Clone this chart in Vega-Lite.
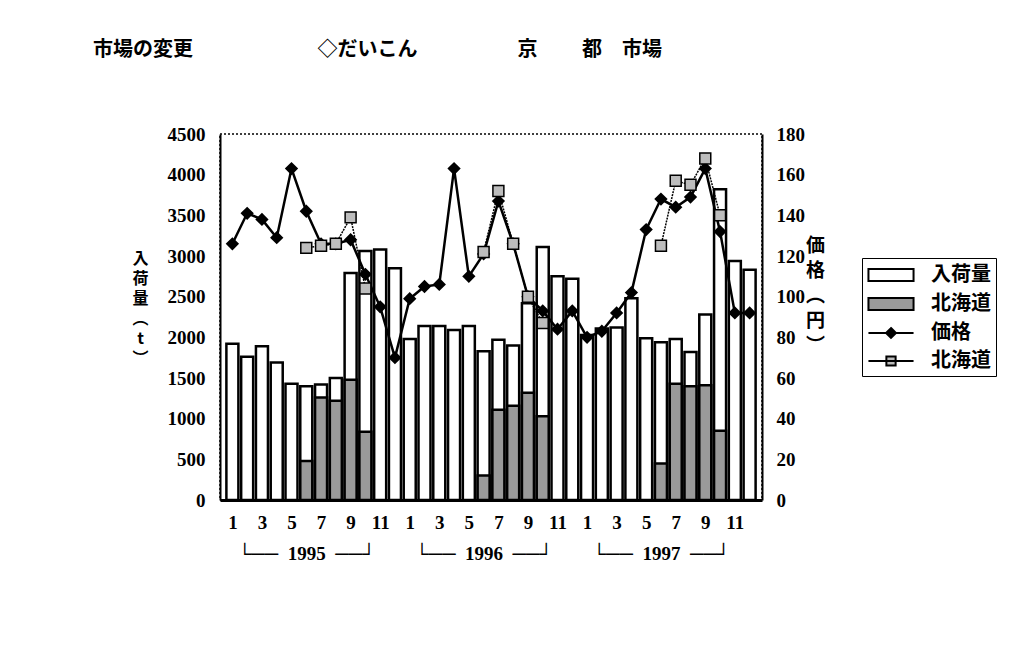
{
  "$schema": "https://vega.github.io/schema/vega-lite/v6.json",
  "width": 542,
  "height": 366,
  "autosize": {"type": "none"},
  "padding": {"left": 220, "top": 134, "right": 261, "bottom": 168},
  "background": "white",
  "config": {
    "view": {"stroke": "black", "strokeDash": [2, 2], "strokeWidth": 1.5},
    "axis": {
      "grid": false,
      "ticks": false,
      "labelFont": "Liberation Serif",
      "labelFontWeight": "bold",
      "labelFontSize": 19,
      "labelColor": "black",
      "domainColor": "black",
      "titleFont": "Noto Sans CJK JP",
      "titleFontWeight": "bold",
      "titleColor": "black",
      "labelOverlap": false
    }
  },
  "title": {
    "text": "市場の変更　　　　　　 ◇だいこん　　　　　京　　  都　市場",
    "anchor": "start",
    "frame": "group",
    "dx": -127,
    "offset": 55,
    "font": "Noto Sans CJK JP",
    "fontSize": 20,
    "fontWeight": "bold",
    "color": "black",
    "baseline": "middle"
  },
  "data": {
    "values": [
      {"t": 1, "yr": 1995, "total": 1920, "hk": null, "price": 126, "hkp": null},
      {"t": 2, "yr": 1995, "total": 1760, "hk": null, "price": 141, "hkp": null},
      {"t": 3, "yr": 1995, "total": 1890, "hk": null, "price": 138, "hkp": null},
      {"t": 4, "yr": 1995, "total": 1690, "hk": null, "price": 129, "hkp": null},
      {"t": 5, "yr": 1995, "total": 1430, "hk": null, "price": 163, "hkp": null},
      {"t": 6, "yr": 1995, "total": 1400, "hk": 480, "price": 142, "hkp": 124},
      {"t": 7, "yr": 1995, "total": 1420, "hk": 1260, "price": 126, "hkp": 125},
      {"t": 8, "yr": 1995, "total": 1500, "hk": 1220, "price": 126, "hkp": 126},
      {"t": 9, "yr": 1995, "total": 2790, "hk": 1480, "price": 128, "hkp": 139},
      {"t": 10, "yr": 1995, "total": 3060, "hk": 840, "price": 111, "hkp": 104},
      {"t": 11, "yr": 1995, "total": 3080, "hk": null, "price": 95, "hkp": null},
      {"t": 12, "yr": 1995, "total": 2850, "hk": null, "price": 70, "hkp": null},
      {"t": 13, "yr": 1996, "total": 1980, "hk": null, "price": 99, "hkp": null},
      {"t": 14, "yr": 1996, "total": 2140, "hk": null, "price": 105, "hkp": null},
      {"t": 15, "yr": 1996, "total": 2140, "hk": null, "price": 106, "hkp": null},
      {"t": 16, "yr": 1996, "total": 2090, "hk": null, "price": 163, "hkp": null},
      {"t": 17, "yr": 1996, "total": 2140, "hk": null, "price": 110, "hkp": null},
      {"t": 18, "yr": 1996, "total": 1830, "hk": 300, "price": 121, "hkp": 122},
      {"t": 19, "yr": 1996, "total": 1970, "hk": 1110, "price": 147, "hkp": 152},
      {"t": 20, "yr": 1996, "total": 1900, "hk": 1160, "price": 126, "hkp": 126},
      {"t": 21, "yr": 1996, "total": 2420, "hk": 1320, "price": 100, "hkp": 100},
      {"t": 22, "yr": 1996, "total": 3110, "hk": 1030, "price": 93, "hkp": 87},
      {"t": 23, "yr": 1996, "total": 2750, "hk": null, "price": 84, "hkp": null},
      {"t": 24, "yr": 1996, "total": 2720, "hk": null, "price": 93, "hkp": null},
      {"t": 25, "yr": 1997, "total": 2030, "hk": null, "price": 80, "hkp": null},
      {"t": 26, "yr": 1997, "total": 2110, "hk": null, "price": 83, "hkp": null},
      {"t": 27, "yr": 1997, "total": 2120, "hk": null, "price": 92, "hkp": null},
      {"t": 28, "yr": 1997, "total": 2480, "hk": null, "price": 102, "hkp": null},
      {"t": 29, "yr": 1997, "total": 1990, "hk": null, "price": 133, "hkp": null},
      {"t": 30, "yr": 1997, "total": 1940, "hk": 450, "price": 148, "hkp": 125},
      {"t": 31, "yr": 1997, "total": 1980, "hk": 1430, "price": 144, "hkp": 157},
      {"t": 32, "yr": 1997, "total": 1820, "hk": 1400, "price": 149, "hkp": 155},
      {"t": 33, "yr": 1997, "total": 2280, "hk": 1410, "price": 163, "hkp": 168},
      {"t": 34, "yr": 1997, "total": 3820, "hk": 850, "price": 132, "hkp": 140},
      {"t": 35, "yr": 1997, "total": 2940, "hk": null, "price": 92, "hkp": null},
      {"t": 36, "yr": 1997, "total": 2830, "hk": null, "price": 92, "hkp": null}
    ]
  },
  "layer": [
    {
      "layer": [
        {
          "mark": {"type": "bar", "size": 12, "fill": "white", "stroke": "black", "strokeWidth": 2.5},
          "encoding": {
            "x": {"field": "t", "type": "quantitative", "scale": {"domain": [0.5, 36.5], "nice": false, "zero": false},
              "axis": {"orient": "bottom", "values": [1, 3, 5, 7, 9, 11, 13, 15, 17, 19, 21, 23, 25, 27, 29, 31, 33, 35], "labelExpr": "(datum.value - 1) % 12 + 1", "labelPadding": 13, "domainWidth": 3, "title": null}},
            "y": {"field": "total", "type": "quantitative", "scale": {"domain": [0, 4500], "nice": false},
              "axis": {"orient": "left", "format": "d", "values": [0, 500, 1000, 1500, 2000, 2500, 3000, 3500, 4000, 4500], "labelPadding": 15, "domainWidth": 2, "title": ["入", "荷", "量", "︵", "t", "︶"], "titleAngle": 0, "titleX": -80, "titleY": 124, "titleAlign": "center", "titleBaseline": "middle", "titleFontSize": 16, "titleLineHeight": 20}}
          }
        },
        {
          "transform": [{"filter": "datum.hk != null"}],
          "mark": {"type": "bar", "size": 12, "fill": "#9a9a9a", "stroke": "black", "strokeWidth": 2.5},
          "encoding": {
            "x": {"field": "t", "type": "quantitative", "scale": {"domain": [0.5, 36.5], "nice": false, "zero": false},
              "axis": {"orient": "bottom", "values": [1, 3, 5, 7, 9, 11, 13, 15, 17, 19, 21, 23, 25, 27, 29, 31, 33, 35], "labelExpr": "(datum.value - 1) % 12 + 1", "labelPadding": 13, "domainWidth": 3, "title": null}},
            "y": {"field": "hk", "type": "quantitative", "scale": {"domain": [0, 4500], "nice": false},
              "axis": {"orient": "left", "format": "d", "values": [0, 500, 1000, 1500, 2000, 2500, 3000, 3500, 4000, 4500], "labelPadding": 15, "domainWidth": 2, "title": ["入", "荷", "量", "︵", "t", "︶"], "titleAngle": 0, "titleX": -80, "titleY": 124, "titleAlign": "center", "titleBaseline": "middle", "titleFontSize": 16, "titleLineHeight": 20}}
          }
        }
      ]
    },
    {
      "layer": [
        {
          "mark": {"type": "line", "color": "black", "strokeWidth": 2.5},
          "encoding": {
            "x": {"field": "t", "type": "quantitative", "scale": {"domain": [0.5, 36.5], "nice": false, "zero": false},
              "axis": {"orient": "bottom", "values": [6, 18, 30], "labelExpr": "'└──\u2002' + (1995 + (datum.value - 6) / 12) + '\u2002──┘'", "labelPadding": 44, "domain": false, "title": null}},
            "y": {"field": "price", "type": "quantitative", "scale": {"domain": [0, 180], "nice": false},
              "axis": {"orient": "right", "values": [0, 20, 40, 60, 80, 100, 120, 140, 160, 180], "labelPadding": 14, "domainWidth": 2, "title": ["価", "格", "︵", "円", "︶"], "titleAngle": 0, "titleX": 53, "titleY": 111, "titleAlign": "center", "titleBaseline": "middle", "titleFontSize": 19, "titleLineHeight": 25}}
          }
        },
        {
          "mark": {"type": "point", "shape": "diamond", "size": 110, "filled": true, "fill": "black", "stroke": "black", "opacity": 1},
          "encoding": {
            "x": {"field": "t", "type": "quantitative", "scale": {"domain": [0.5, 36.5], "nice": false, "zero": false},
              "axis": {"orient": "bottom", "values": [6, 18, 30], "labelExpr": "'└──\u2002' + (1995 + (datum.value - 6) / 12) + '\u2002──┘'", "labelPadding": 44, "domain": false, "title": null}},
            "y": {"field": "price", "type": "quantitative", "scale": {"domain": [0, 180], "nice": false},
              "axis": {"orient": "right", "values": [0, 20, 40, 60, 80, 100, 120, 140, 160, 180], "labelPadding": 14, "domainWidth": 2, "title": ["価", "格", "︵", "円", "︶"], "titleAngle": 0, "titleX": 53, "titleY": 111, "titleAlign": "center", "titleBaseline": "middle", "titleFontSize": 19, "titleLineHeight": 25}}
          }
        },
        {
          "transform": [{"filter": "datum.hkp != null"}],
          "mark": {"type": "line", "color": "black", "strokeWidth": 1.5, "strokeDash": [2, 1]},
          "encoding": {
            "x": {"field": "t", "type": "quantitative", "scale": {"domain": [0.5, 36.5], "nice": false, "zero": false},
              "axis": {"orient": "bottom", "values": [6, 18, 30], "labelExpr": "'└──\u2002' + (1995 + (datum.value - 6) / 12) + '\u2002──┘'", "labelPadding": 44, "domain": false, "title": null}},
            "y": {"field": "hkp", "type": "quantitative", "scale": {"domain": [0, 180], "nice": false},
              "axis": {"orient": "right", "values": [0, 20, 40, 60, 80, 100, 120, 140, 160, 180], "labelPadding": 14, "domainWidth": 2, "title": ["価", "格", "︵", "円", "︶"], "titleAngle": 0, "titleX": 53, "titleY": 111, "titleAlign": "center", "titleBaseline": "middle", "titleFontSize": 19, "titleLineHeight": 25}},
            "detail": {"field": "yr", "type": "nominal"}
          }
        },
        {
          "transform": [{"filter": "datum.hkp != null"}],
          "mark": {"type": "point", "shape": "square", "size": 120, "filled": true, "fill": "#bdbdbd", "stroke": "black", "strokeWidth": 1.5, "opacity": 1},
          "encoding": {
            "x": {"field": "t", "type": "quantitative", "scale": {"domain": [0.5, 36.5], "nice": false, "zero": false},
              "axis": {"orient": "bottom", "values": [6, 18, 30], "labelExpr": "'└──\u2002' + (1995 + (datum.value - 6) / 12) + '\u2002──┘'", "labelPadding": 44, "domain": false, "title": null}},
            "y": {"field": "hkp", "type": "quantitative", "scale": {"domain": [0, 180], "nice": false},
              "axis": {"orient": "right", "values": [0, 20, 40, 60, 80, 100, 120, 140, 160, 180], "labelPadding": 14, "domainWidth": 2, "title": ["価", "格", "︵", "円", "︶"], "titleAngle": 0, "titleX": 53, "titleY": 111, "titleAlign": "center", "titleBaseline": "middle", "titleFontSize": 19, "titleLineHeight": 25}}
          }
        },
        {
          "data": {"values": [{"k": "入荷量"}, {"k": "北海道量"}, {"k": "価格"}, {"k": "北海道価格"}]},
          "mark": {"type": "point", "filled": true, "opacity": 0},
          "encoding": {
            "shape": {"field": "k", "type": "nominal",
              "scale": {"domain": ["入荷量", "北海道量", "価格", "北海道価格"], "range": ["M-2.05,-0.55H2.05V0.55H-2.05Z", "M-2.05,-0.55H2.05V0.55H-2.05Z", "M-2.05,0H2.05M0,-0.45L0.45,0L0,0.45L-0.45,0Z", "M-2.05,0H2.05M-0.42,-0.42H0.42V0.42H-0.42Z"]},
              "legend": {"orient": "none", "legendX": 642, "legendY": 124, "title": null, "strokeColor": "black", "fillColor": "white", "padding": 5, "labelFont": "Noto Sans CJK JP", "labelFontWeight": "bold", "labelFontSize": 20, "labelColor": "black", "symbolSize": 484, "symbolOffset": 12, "symbolStrokeColor": "black", "symbolStrokeWidth": 2, "rowPadding": 6, "labelOffset": 28, "labelExpr": "datum.label == '北海道量' || datum.label == '北海道価格' ? '北海道' : datum.label", "encode": {"symbols": {"update": {"opacity": {"value": 1}, "stroke": {"value": "black"}, "strokeWidth": {"value": 2}}}}}},
            "fill": {"field": "k", "type": "nominal",
              "scale": {"domain": ["入荷量", "北海道量", "価格", "北海道価格"], "range": ["white", "#9a9a9a", "black", "#bdbdbd"]},
              "legend": {"orient": "none", "legendX": 642, "legendY": 124, "title": null, "strokeColor": "black", "fillColor": "white", "padding": 5, "labelFont": "Noto Sans CJK JP", "labelFontWeight": "bold", "labelFontSize": 20, "labelColor": "black", "symbolSize": 484, "symbolOffset": 12, "symbolStrokeColor": "black", "symbolStrokeWidth": 2, "rowPadding": 6, "labelOffset": 28, "labelExpr": "datum.label == '北海道量' || datum.label == '北海道価格' ? '北海道' : datum.label", "encode": {"symbols": {"update": {"opacity": {"value": 1}, "stroke": {"value": "black"}, "strokeWidth": {"value": 2}}}}}}
          }
        }
      ]
    }
  ],
  "resolve": {"scale": {"y": "independent"}, "axis": {"x": "independent"}}
}
